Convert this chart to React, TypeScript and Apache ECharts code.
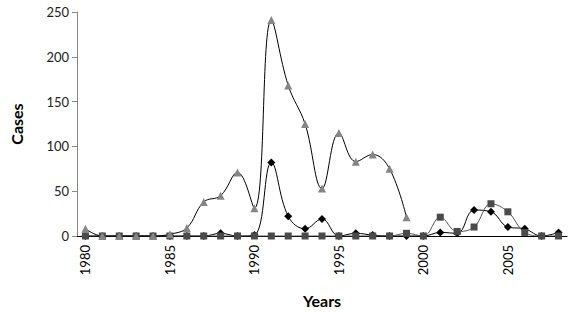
import React, { useEffect, useRef } from "react";
import * as echarts from "echarts";

const years: string[] = [];
for (let y = 1980; y <= 2008; y++) years.push(String(y));

const triangleSeries: (number | null)[] = [
  8, 0, 0, 0, 0, 2, 9, 38, 45, 71, 31, 241, 168, 125, 53, 115, 83, 91, 75, 21,
  null, null, null, null, null, null, null, null, null,
];
const diamondSeries: number[] = [
  0, 0, 0, 0, 0, 0, 0, 0, 3, 0, 1, 82, 22, 8, 19, 0, 3, 1, 0, 0, 0, 4, 3, 29, 27,
  10, 8, 0, 4,
];
const squareSeries: number[] = [
  0, 0, 0, 0, 0, 0, 0, 0, 0, 0, 0, 0, 0, 0, 0, 0, 0, 0, 0, 3, 0, 21, 5, 10, 36,
  27, 4, 0, 0,
];

const FONT = "Lato, 'Open Sans', sans-serif";

export default function App() {
  const ref = useRef<HTMLDivElement>(null);
  useEffect(() => {
    if (!ref.current) return;
    const chart = echarts.init(ref.current, undefined, { renderer: "svg" });
    chart.setOption({
      animation: false,
      backgroundColor: "#ffffff",
      grid: { left: 63, right: 3, top: 12, bottom: 76 },
      xAxis: {
        type: "category",
        data: years,
        boundaryGap: true,
        name: "Years",
        nameLocation: "middle",
        nameGap: 56,
        nameTextStyle: { fontFamily: FONT, fontSize: 16, fontWeight: "bold", color: "#000" },
        axisLine: { lineStyle: { color: "#000", width: 1 } },
        axisTick: { show: false },
        axisLabel: {
          interval: 4,
          rotate: 90,
          fontFamily: FONT,
          fontSize: 13,
          color: "#000",
          margin: 9,
        },
        splitLine: { show: false },
      },
      yAxis: {
        type: "value",
        min: 0,
        max: 250,
        interval: 50,
        name: "Cases",
        nameLocation: "middle",
        nameGap: 53,
        nameRotate: 90,
        nameTextStyle: { fontFamily: FONT, fontSize: 16, fontWeight: "bold", color: "#000" },
        axisLine: { show: true, lineStyle: { color: "#888", width: 1 } },
        axisTick: { show: true, length: 5, lineStyle: { color: "#888" } },
        axisLabel: { fontFamily: FONT, fontSize: 13, color: "#222", margin: 8 },
        splitLine: { show: false },
      },
      series: [
        {
          type: "line",
          data: diamondSeries,
          smooth: 0.4,
          symbol: "diamond",
          symbolSize: 8,
          itemStyle: { color: "#000" },
          lineStyle: { color: "#000", width: 1 },
        },
        {
          type: "line",
          data: squareSeries,
          smooth: 0.4,
          symbol: "rect",
          symbolSize: 7,
          itemStyle: { color: "#4a4a4a" },
          lineStyle: { color: "#555", width: 1 },
        },
        {
          type: "line",
          data: triangleSeries,
          smooth: 0.4,
          symbol: "triangle",
          symbolSize: 8,
          connectNulls: false,
          itemStyle: { color: "#858585" },
          lineStyle: { color: "#000", width: 1 },
        },
      ],
    });
    return () => chart.dispose();
  }, []);
  return (
    <div
      ref={ref}
      style={{ position: "fixed", left: 0, top: 0, width: 570, height: 313, background: "#fff" }}
    />
  );
}
